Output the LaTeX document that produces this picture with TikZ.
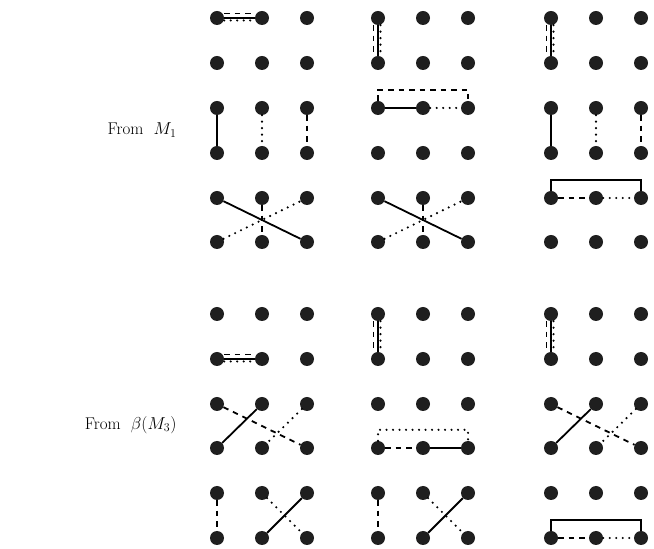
\documentclass[tikz,border=0pt]{standalone}
\usetikzlibrary{calc}
\begin{document}
\begin{tikzpicture}[x=1pt,y=1pt,
  dot/.style={circle,fill=black!88,inner sep=0pt,minimum size=14pt},
  solidln/.style={line width=1.8pt},
  dashln/.style={line width=1.8pt,dash pattern=on 5.5pt off 5pt},
  dotln/.style={line width=2.4pt,line cap=round,dash pattern=on 0pt off 6.5pt},
  lbl/.style={font=\fontsize{17}{19}\selectfont,anchor=east}]
\useasboundingbox (0,0) rectangle (654,549);

% grid of dots: three panels, twelve rows, three columns each
\foreach \p/\x in {1/217,2/378,3/551}{
  \foreach \r/\y in {1/531,2/486,3/441,4/396,5/351,6/307,7/235,8/190,9/145,10/101,11/56,12/11}{
    \foreach \c in {1,2,3}{
      \node[dot] (d\p-\r-\c) at ({\x+45*(\c-1)},\y) {};
    }
  }
}

% row labels
\node[lbl] (lm1) at (180,419) {From \ $M_1$};
\node[lbl] (lbm3) at (180,124) {From \ $\beta(M_3)$};

% ---------- upper block ----------
% panel 1
\draw[dashln] ([yshift=4.5pt]d1-1-1.east) -- ([yshift=4.5pt]d1-1-2.west);
\draw[solidln] (d1-1-1) -- (d1-1-2);
\draw[dotln] ([yshift=-2.5pt]d1-1-1.east) -- ([yshift=-2.5pt]d1-1-2.west);
\draw[solidln] (d1-3-1) -- (d1-4-1);
\draw[dotln] (d1-3-2) -- (d1-4-2);
\draw[dashln] (d1-3-3) -- (d1-4-3);
\draw[solidln] (d1-5-1) -- (d1-6-3);
\draw[dotln] (d1-6-1) -- (d1-5-3);
\draw[dashln] (d1-5-2) -- (d1-6-2);
% panel 2
\draw[dashln] ([xshift=-4.5pt]d2-1-1.south) -- ([xshift=-4.5pt]d2-2-1.north);
\draw[solidln] (d2-1-1) -- (d2-2-1);
\draw[dotln] ([xshift=2.5pt]d2-1-1.south) -- ([xshift=2.5pt]d2-2-1.north);
\draw[solidln] (d2-3-1) -- (d2-3-2);
\draw[dotln] (d2-3-2) -- (d2-3-3);
\draw[dashln] (d2-3-1.north) -- ++(0,11) -| (d2-3-3.north);
\draw[solidln] (d2-5-1) -- (d2-6-3);
\draw[dotln] (d2-6-1) -- (d2-5-3);
\draw[dashln] (d2-5-2) -- (d2-6-2);
% panel 3
\draw[dashln] ([xshift=-4.5pt]d3-1-1.south) -- ([xshift=-4.5pt]d3-2-1.north);
\draw[solidln] (d3-1-1) -- (d3-2-1);
\draw[dotln] ([xshift=2.5pt]d3-1-1.south) -- ([xshift=2.5pt]d3-2-1.north);
\draw[solidln] (d3-3-1) -- (d3-4-1);
\draw[dotln] (d3-3-2) -- (d3-4-2);
\draw[dashln] (d3-3-3) -- (d3-4-3);
\draw[solidln] (d3-5-1.north) -- ++(0,11) -| (d3-5-3.north);
\draw[dashln] (d3-5-1) -- (d3-5-2);
\draw[dotln] (d3-5-2) -- (d3-5-3);

% ---------- lower block ----------
% panel 1
\draw[dashln] ([yshift=4.5pt]d1-8-1.east) -- ([yshift=4.5pt]d1-8-2.west);
\draw[solidln] (d1-8-1) -- (d1-8-2);
\draw[dotln] ([yshift=-2.5pt]d1-8-1.east) -- ([yshift=-2.5pt]d1-8-2.west);
\draw[solidln] (d1-10-1) -- (d1-9-2);
\draw[dashln] (d1-9-1) -- (d1-10-3);
\draw[dotln] (d1-9-3) -- (d1-10-2);
\draw[dashln] (d1-11-1) -- (d1-12-1);
\draw[solidln] (d1-12-2) -- (d1-11-3);
\draw[dotln] (d1-11-2) -- (d1-12-3);
% panel 2
\draw[dashln] ([xshift=-4.5pt]d2-7-1.south) -- ([xshift=-4.5pt]d2-8-1.north);
\draw[solidln] (d2-7-1) -- (d2-8-1);
\draw[dotln] ([xshift=2.5pt]d2-7-1.south) -- ([xshift=2.5pt]d2-8-1.north);
\draw[dotln] (d2-10-1.north) -- ++(0,11) -| (d2-10-3.north);
\draw[dashln] (d2-10-1) -- (d2-10-2);
\draw[solidln] (d2-10-2) -- (d2-10-3);
\draw[dashln] (d2-11-1) -- (d2-12-1);
\draw[solidln] (d2-12-2) -- (d2-11-3);
\draw[dotln] (d2-11-2) -- (d2-12-3);
% panel 3
\draw[dashln] ([xshift=-4.5pt]d3-7-1.south) -- ([xshift=-4.5pt]d3-8-1.north);
\draw[solidln] (d3-7-1) -- (d3-8-1);
\draw[dotln] ([xshift=2.5pt]d3-7-1.south) -- ([xshift=2.5pt]d3-8-1.north);
\draw[solidln] (d3-10-1) -- (d3-9-2);
\draw[dashln] (d3-9-1) -- (d3-10-3);
\draw[dotln] (d3-9-3) -- (d3-10-2);
\draw[solidln] (d3-12-1.north) -- ++(0,11) -| (d3-12-3.north);
\draw[dashln] (d3-12-1) -- (d3-12-2);
\draw[dotln] (d3-12-2) -- (d3-12-3);
\end{tikzpicture}
\end{document}
